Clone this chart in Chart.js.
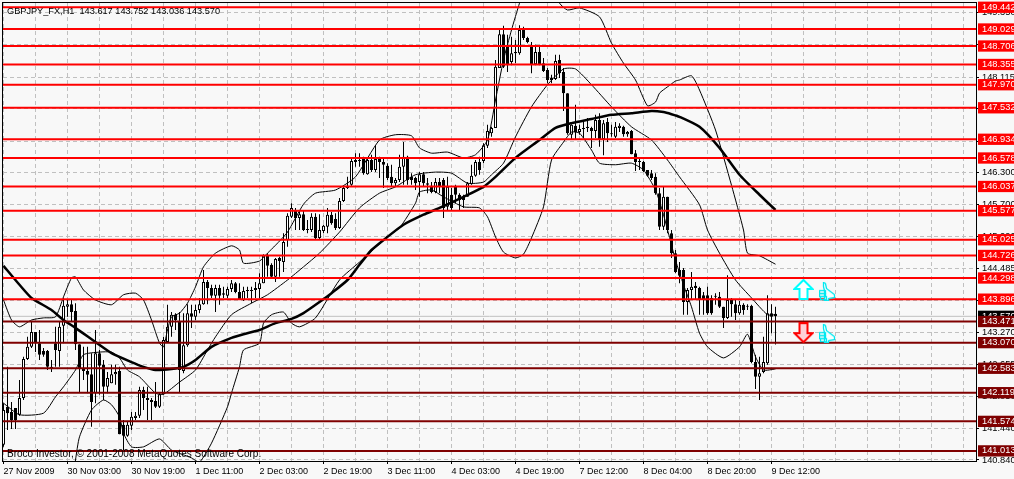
<html>
<head>
<meta charset="UTF-8">
<title>GBPJPY_FX,H1</title>
<script src="https://cdnjs.cloudflare.com/ajax/libs/Chart.js/4.4.1/chart.umd.js"></script>
<style>
 html, body { margin: 0; padding: 0; background: #f8f8f8; overflow: hidden; }
 canvas { display: block; }
</style>
</head>
<body>
<canvas id="myChart" width="1014" height="479"></canvas>
<script>
// H1 candles, one entry per bar, prices
var opens = [
 141.13,141.85,141.75,141.83,141.70,142.02,142.76,142.99,143.27,143.06,
 142.91,142.91,142.61,143.06,142.91,143.39,143.75,143.80,143.67,143.04,
 142.59,142.53,142.47,142.11,142.87,142.65,142.23,142.30,142.47,142.53,
 141.51,141.30,141.49,141.64,141.68,142.17,142.02,141.98,141.96,141.85,
 142.09,143.08,143.37,143.60,143.46,142.53,143.02,143.63,143.56,143.69,
 143.80,144.22,144.11,143.96,144.11,144.01,143.96,144.09,144.20,144.03,
 143.88,144.07,144.05,144.07,144.09,144.20,144.72,144.55,144.32,144.68,
 144.60,145.02,145.46,145.57,145.44,145.51,145.23,145.21,145.46,145.06,
 145.19,145.27,145.50,145.42,145.25,145.76,146.01,146.07,146.50,146.54,
 146.56,146.27,146.54,146.35,146.56,146.50,146.43,146.22,146.10,146.16,
 146.41,146.60,146.22,146.20,146.12,146.27,146.10,146.05,145.93,146.12,
 146.16,145.65,145.88,146.03,145.88,145.84,145.84,146.08,146.24,146.50,
 146.52,146.81,147.05,147.15,148.29,148.93,148.73,148.40,148.57,148.57,
 149.01,148.86,148.69,148.36,148.59,148.38,148.25,148.06,148.08,148.44,
 148.21,147.81,147.02,147.19,147.07,147.15,147.15,147.15,147.09,147.30,
 146.94,147.26,147.05,146.98,147.15,147.17,147.03,147.09,146.67,146.52,
 146.50,146.35,146.29,146.22,145.91,145.27,145.84,145.15,144.77,144.45,
 144.45,143.84,144.07,144.15,144.11,143.97,143.97,143.92,143.96,143.94,
 143.75,143.54,143.88,143.80,143.63,143.79,143.77,143.77,142.70,142.42,
 142.51,142.68,143.63,143.617];
var highs = [
 141.92,142.61,141.94,141.83,142.36,142.80,143.18,143.46,143.27,143.31,
 142.97,142.93,142.74,143.37,143.46,143.92,143.88,143.88,143.82,143.04,
 142.99,142.99,142.87,143.31,142.93,142.74,142.51,142.65,142.65,142.61,
 141.60,141.56,141.75,141.75,142.23,142.23,142.23,142.02,142.32,142.13,
 143.18,143.79,143.65,143.63,143.65,143.63,143.80,143.79,143.79,143.92,
 144.45,144.26,144.17,144.17,144.17,144.13,144.13,144.26,144.22,144.20,
 144.13,144.13,144.13,144.22,144.39,144.75,144.77,144.58,144.68,144.70,
 145.15,145.53,145.72,145.63,145.59,145.59,145.40,145.53,145.53,145.51,
 145.31,145.63,145.55,145.53,145.82,146.03,146.22,146.56,146.67,146.67,
 146.60,146.58,146.64,146.82,146.60,146.58,146.48,146.45,146.20,146.64,
 146.88,146.62,146.29,146.22,146.31,146.31,146.20,146.12,146.20,146.20,
 146.20,146.22,146.01,146.07,145.91,145.88,146.12,146.45,146.54,146.60,
 146.86,147.21,147.17,148.44,149.05,149.09,148.92,148.88,148.82,149.10,
 149.07,148.88,148.78,148.73,148.73,148.48,148.29,148.16,148.54,148.54,
 148.29,147.81,147.22,147.59,147.21,147.30,147.34,147.17,147.40,147.43,
 147.30,147.34,147.21,147.26,147.24,147.19,147.09,147.11,146.73,146.56,
 146.52,146.35,146.35,146.29,146.01,146.03,145.84,145.21,144.83,144.60,
 144.49,144.11,144.41,144.22,144.13,144.03,144.13,143.97,144.01,144.03,
 143.75,144.35,143.92,143.88,143.86,143.82,143.80,143.79,142.84,142.80,
 143.18,143.97,143.80,143.752];
var lows = [
 141.09,141.41,141.43,141.43,141.68,141.98,142.74,142.97,142.89,142.74,
 142.80,142.55,142.51,142.61,142.61,143.06,143.56,143.46,142.93,142.13,
 142.36,142.11,141.47,141.92,142.08,141.98,142.11,142.30,142.27,141.33,
 141.03,141.28,141.41,141.60,141.64,141.79,141.60,141.60,141.83,141.83,
 142.08,143.08,143.18,143.31,142.13,142.49,142.99,143.35,143.50,143.63,
 143.79,143.80,143.92,143.65,143.79,143.92,143.92,144.03,144.01,143.88,
 143.86,143.92,143.82,143.92,143.92,144.20,144.32,144.30,144.22,144.32,
 144.41,144.89,145.44,145.21,145.21,145.19,145.15,145.17,145.02,145.02,
 145.15,145.15,145.31,145.21,145.23,145.74,145.99,146.05,146.41,146.41,
 146.26,146.26,146.31,146.31,146.20,146.01,146.16,146.04,146.04,146.12,
 146.07,146.07,146.07,145.97,145.84,146.04,145.91,145.91,145.91,145.91,
 145.44,145.59,145.59,145.72,145.59,145.63,145.84,146.07,146.22,146.26,
 146.48,146.77,146.98,147.15,148.29,148.29,148.21,148.34,148.38,148.54,
 148.82,148.76,148.19,148.34,148.34,148.21,148.00,148.00,148.06,148.10,
 147.47,147.02,146.92,146.92,147.02,146.96,147.07,146.77,146.96,146.79,
 146.63,146.88,146.98,146.96,147.07,146.98,146.98,146.65,146.33,146.35,
 146.31,146.22,146.16,145.88,145.21,145.21,145.15,144.68,144.39,144.20,
 143.60,143.60,143.88,143.88,143.60,143.60,143.60,143.60,143.79,143.73,
 143.35,143.52,143.56,143.50,143.60,143.60,143.69,142.68,142.19,141.98,
 142.49,142.65,143.25,143.036];
var closes = [
 141.79,141.73,141.60,141.60,142.02,142.76,142.99,143.27,143.06,142.84,
 142.84,142.61,142.59,142.93,143.37,143.77,143.80,143.65,143.04,142.59,
 142.53,142.46,141.94,142.87,142.63,142.23,142.40,142.47,142.51,141.33,
 141.30,141.51,141.66,141.68,142.17,142.02,141.98,141.94,141.85,142.09,
 143.12,143.37,143.60,143.50,142.55,143.02,143.63,143.56,143.69,143.80,
 144.22,144.11,143.96,144.11,143.96,143.98,144.09,144.20,144.03,143.88,
 144.05,144.05,144.07,144.11,144.20,144.72,144.53,144.32,144.66,144.62,
 144.98,145.48,145.63,145.44,145.51,145.21,145.21,145.46,145.06,145.21,
 145.29,145.50,145.34,145.25,145.76,146.01,146.05,146.52,146.54,146.52,
 146.29,146.54,146.35,146.56,146.50,146.45,146.20,146.10,146.16,146.41,
 146.60,146.16,146.16,146.10,146.27,146.10,146.07,145.93,146.12,146.03,
 145.63,146.03,145.63,145.88,145.78,145.78,146.10,146.24,146.50,146.35,
 146.82,147.09,147.15,148.31,148.93,148.31,148.34,148.57,148.59,149.01,
 148.86,148.78,148.36,148.59,148.36,148.23,148.06,148.10,148.42,148.19,
 147.81,147.05,147.21,147.07,147.13,147.13,147.17,147.09,147.30,146.92,
 147.24,147.05,147.03,147.17,147.19,147.03,147.07,146.65,146.50,146.50,
 146.33,146.24,146.20,145.91,145.27,145.84,145.21,144.77,144.41,144.34,
 143.84,144.07,144.13,144.11,143.88,143.88,143.63,143.63,143.94,143.75,
 143.54,143.88,143.80,143.63,143.79,143.69,143.75,142.70,142.42,142.49,
 142.70,143.63,143.56,143.570];

// moving average and bollinger lines, sampled at the bars where they bend
var maBars = [0,4,7,12,15,18,23,27,32,35,38,42,45,48,52,57,60,64,68,72,75,79,82,86,89,92,96,100,105,109,115,120,123,128,134,138,142,147,152,157,162,165,167,169,174,179,184,189,193];
var maVals = [144.53,144.17,143.92,143.69,143.50,143.35,143.08,142.87,142.70,142.61,142.55,142.57,142.61,142.74,142.99,143.16,143.23,143.31,143.44,143.52,143.63,143.84,144.01,144.26,144.55,144.83,145.08,145.31,145.50,145.63,145.84,146.03,146.22,146.58,146.92,147.15,147.24,147.32,147.40,147.43,147.47,147.45,147.41,147.36,147.17,146.77,146.26,145.88,145.59];

var upperBars = [0,2,4,7,10,13,15,17,18,20,23,27,30,33,35,37,39,40,41,42,44,46,48,50,53,57,59,60,64,66,68,71,75,78,83,88,94,98,102,104,107,111,115,118,121,123,125,127,129,131,135,138,139,141,144,149,152,155,158,161,163,164,166,168,169,172,174,178,182,185,186,189,193];
var upperVals = [143.88,143.50,143.37,143.50,143.54,143.56,143.94,144.30,144.32,144.07,143.88,143.79,143.98,144.01,143.88,143.50,143.06,142.99,143.31,143.56,143.63,143.82,144.13,144.51,144.77,144.91,144.83,144.58,144.62,144.77,144.92,145.17,145.70,145.91,145.97,146.22,146.92,147.02,147.00,146.77,146.67,146.69,146.58,146.64,146.92,147.68,148.44,149.01,149.52,149.96,150.15,149.77,149.52,149.39,149.43,149.26,148.76,148.38,148.06,147.57,147.64,147.81,147.93,148.04,148.06,148.14,147.87,147.11,146.06,145.21,144.77,144.72,144.56];

var midBars = [0,4,10,13,15,18,20,24,27,29,31,34,38,40,44,48,51,53,57,62,66,71,75,79,84,89,94,98,103,108,112,116,120,122,125,128,132,136,140,143,147,152,157,162,166,169,174,176,179,183,187,191,193];
var midVals = [141.92,141.70,141.73,142.04,142.23,142.55,142.84,142.89,142.89,142.78,142.55,142.42,142.11,142.09,142.32,142.55,142.93,143.18,143.60,143.82,143.98,144.26,144.51,144.77,145.17,145.63,145.91,146.03,146.26,146.31,146.29,146.10,146.12,146.26,146.48,146.98,147.55,147.97,148.27,148.27,147.97,147.55,147.17,146.92,146.54,146.22,145.69,145.21,144.77,144.26,143.92,143.60,143.60];

var lowerBars = [17,18,19,22,25,27,29,30,32,35,39,42,47,49,52,56,57,59,60,64,65,67,70,72,74,78,84,89,96,99,103,104,107,110,115,119,121,123,125,128,130,132,135,137,140,142,144,147,149,153,157,160,163,165,168,170,172,174,176,180,184,186,188,190,193];
var lowerVals = [140.27,140.84,141.28,141.79,141.98,141.89,141.66,141.35,141.09,141.09,141.24,141.03,140.88,140.80,141.16,141.85,142.11,142.61,142.93,143.06,143.44,143.60,143.65,143.44,143.37,143.54,144.26,144.60,145.08,145.25,145.72,145.93,145.97,145.84,145.65,145.63,145.46,145.08,144.79,144.68,144.75,145.06,145.65,146.54,146.88,147.07,147.05,146.73,146.48,146.45,146.48,146.35,145.97,145.50,144.64,144.17,143.75,143.25,142.99,142.78,142.99,143.23,142.80,142.55,142.57];

// horizontal levels
var redLevels = [149.442,149.029,148.706,148.355,147.970,147.532,146.934,146.578,146.037,145.577,145.025,144.726,144.298,143.896];
var darkLevels = [143.471,143.070,142.583,142.119,141.574,141.013];
var lastPrice = 143.570;

// axis labels
var gridPrices = [149.350,148.740,148.115,147.510,146.900,146.300,145.700,145.090,144.485,143.880,143.270,142.655,142.050,141.440,140.840];
var dateLabels = ["27 Nov 2009","30 Nov 03:00","30 Nov 19:00","1 Dec 11:00","2 Dec 03:00","2 Dec 19:00","3 Dec 11:00","4 Dec 03:00","4 Dec 19:00","7 Dec 12:00","8 Dec 04:00","8 Dec 20:00","9 Dec 12:00"];

var headerText = "GBPJPY_FX,H1  143.617 143.752 143.036 143.570";
var footerText = "Broco Investor, \u00a9 2001-2008 MetaQuotes Software Corp.";

// signals on the right of the last bar
var arrowUp = {bar: 200, price: 144.08};
var arrowDown = {bar: 200, price: 143.26};
var thumbUp = {bar: 206, price: 144.04};
var thumbDown = {bar: 206, price: 143.24};

var FONT = "'Liberation Sans', sans-serif";
var minBar = -0.125, maxBar = 243.125;

function linePoints(bars, vals) {
    return bars.map(function (b, i) { return {x: b, y: vals[i]}; });
}

function thinLine(label, bars, vals) {
    return {type: 'line', label: label, data: linePoints(bars, vals), borderColor: '#000', borderWidth: 1,
	    pointRadius: 0, tension: 0.2, order: 4};
}

function levelLine(price, colour) {
    return {type: 'line', label: 'level ' + price, data: [{x: minBar, y: price}, {x: maxBar, y: price}],
	    borderColor: colour, borderWidth: 2, pointRadius: 0, order: 1};
}

function makeIcon(w, h, draw) {
    var c = document.createElement('canvas');
    c.width = w; c.height = h;
    draw(c.getContext('2d'));
    return c;
}

function arrowIcon(up, stroke, fill) {
    return makeIcon(21, 21, function (g) {
	var pts = [[10.5,1],[1.5,10],[6.5,10],[6.5,20],[14.5,20],[14.5,10],[19.5,10]];
	g.beginPath();
	pts.forEach(function (p, i) {
	    var y = up ? p[1] : 21 - p[1];
	    if (i == 0) g.moveTo(p[0], y); else g.lineTo(p[0], y);
	});
	g.closePath();
	g.fillStyle = fill; g.fill();
	g.strokeStyle = stroke; g.lineWidth = 2; g.stroke();
    });
}

function thumbIcon() {
    return makeIcon(17, 19, function (g) {
	g.strokeStyle = '#00e8f0'; g.lineWidth = 1.3; g.fillStyle = '#f8ffff';
	g.beginPath();
	g.moveTo(4.5,0.5); g.lineTo(6.5,1.5); g.lineTo(7.5,6.5); g.lineTo(11.5,9.5); g.lineTo(15.5,12.5);
	g.lineTo(15.5,15.5); g.lineTo(9.5,16.5); g.lineTo(9.5,18.5); g.lineTo(5.5,18.5); g.lineTo(5.5,8.5);
	g.lineTo(4.5,4.5); g.closePath();
	g.fill(); g.stroke();
	g.strokeRect(0.5,8.5,6,3); g.strokeRect(0.5,11.5,6,3); g.strokeRect(1.5,14.5,6,3);
    });
}

// the scale also asks for these options without a tick
function isGridTick(c) {
    return !c.tick || gridPrices.indexOf(c.tick.value) >= 0;
}

var frameAndText = {
    id: 'frameAndText',
    afterDraw: function (chart) {
	var g = chart.ctx, a = chart.chartArea;
	g.save();
	g.strokeStyle = '#000';
	g.lineWidth = 1;
	g.strokeRect(a.left - 0.5, a.top - 0.5, a.right - a.left + 1, a.bottom - a.top + 1);
	g.fillStyle = '#000';
	g.textBaseline = 'alphabetic';
	g.font = '9.2px ' + FONT;
	g.fillText(headerText, a.left + 4, 14);
	g.font = '10px ' + FONT;
	g.fillText(footerText, a.left + 4, 457);
	g.restore();
    }
};

function initChart() {
    var wicks = [], bodies = [], fills = [];
    for (var i = 0; i < opens.length; i++) {
	wicks.push({x: i, y: [lows[i], highs[i]]});
	bodies.push({x: i, y: [opens[i], closes[i]]});
	fills.push(closes[i] >= opens[i] ? '#fff' : '#000');
    }

    var datasets = [
	{type: 'line', label: 'last price', data: [{x: minBar, y: lastPrice}, {x: maxBar, y: lastPrice}],
	 borderColor: '#c0c0c0', borderWidth: 1, pointRadius: 0, order: 7},
	{type: 'bar', label: 'wicks', data: wicks, backgroundColor: '#000', barThickness: 1, grouped: false,
	 inflateAmount: 0, borderWidth: 0, order: 6},
	{type: 'bar', label: 'bodies', data: bodies, backgroundColor: fills, borderColor: '#000', borderWidth: 1,
	 borderSkipped: false, barThickness: 3, grouped: false, inflateAmount: 0, order: 5},
	thinLine('upper band', upperBars, upperVals),
	thinLine('middle band', midBars, midVals),
	thinLine('lower band', lowerBars, lowerVals),
	{type: 'line', label: 'moving average', data: linePoints(maBars, maVals), borderColor: '#000', borderWidth: 2.5,
	 pointRadius: 0, tension: 0.2, order: 3}
    ];
    redLevels.forEach(function (p) { datasets.push(levelLine(p, '#ff0000')); });
    darkLevels.forEach(function (p) { datasets.push(levelLine(p, '#7f0000')); });

    var signals = [
	[arrowUp, arrowIcon(true, '#00ffff', '#ffffff')],
	[arrowDown, arrowIcon(false, '#ff0000', '#ffd0d8')],
	[thumbUp, thumbIcon()],
	[thumbDown, thumbIcon()]
    ];
    signals.forEach(function (s) {
	datasets.push({type: 'line', label: 'signal', data: [{x: s[0].bar, y: s[0].price}], showLine: false,
		       pointStyle: s[1], pointRadius: 10, order: 0});
    });

    var ctx = document.getElementById('myChart').getContext('2d');
    new Chart(ctx, {
	data: {datasets: datasets},
	plugins: [frameAndText],
	options: {
	    responsive: false,
	    animation: false,
	    devicePixelRatio: 1,
	    events: [],
	    layout: {autoPadding: false, padding: {left: 3, top: 3, right: 0, bottom: 0}},
	    plugins: {legend: {display: false}, tooltip: {enabled: false}},
	    scales: {
		x: {
		    type: 'linear',
		    offset: false,
		    min: minBar,
		    max: maxBar,
		    afterBuildTicks: function (axis) {
			var t = [];
			for (var b = 0; b <= 240; b += 8) t.push({value: b});
			axis.ticks = t;
		    },
		    afterFit: function (axis) {
			axis.height = 18;
			axis.paddingLeft = 0;
			axis.paddingRight = 0;
		    },
		    border: {color: '#000', dash: [4, 3]},
		    grid: {
			offset: false,
			color: '#c0c0c0',
			tickLength: 3,
			tickColor: function (c) { return c.tick && c.tick.value % 16 == 0 && c.tick.value <= 192 ? '#000' : 'rgba(0,0,0,0)'; },
			tickBorderDash: []
		    },
		    ticks: {
			autoSkip: false,
			maxRotation: 0,
			align: 'start',
			padding: 2,
			color: '#000',
			font: {family: FONT, size: 9},
			callback: function (v) { return v % 16 == 0 && v <= 192 ? dateLabels[v / 16] : ''; }
		    }
		},
		y: {
		    type: 'linear',
		    position: 'right',
		    min: 140.821,
		    max: 149.523,
		    afterBuildTicks: function (axis) {
			var t = [];
			gridPrices.forEach(function (p) { t.push({value: p}); });
			t.push({value: lastPrice});
			redLevels.concat(darkLevels).forEach(function (p) { t.push({value: p}); });
			axis.ticks = t;
		    },
		    afterFit: function (axis) {
			axis.width = 38;
			axis.paddingTop = 0;
			axis.paddingBottom = 0;
		    },
		    border: {color: '#000', dash: [4, 3]},
		    grid: {
			color: function (c) { return isGridTick(c) ? '#c0c0c0' : 'rgba(0,0,0,0)'; },
			tickLength: 3,
			tickColor: function (c) { return isGridTick(c) ? '#000' : 'rgba(0,0,0,0)'; },
			tickBorderDash: []
		    },
		    ticks: {
			autoSkip: false,
			padding: 3,
			font: {family: FONT, size: 9.3, lineHeight: 1},
			color: function (c) { return isGridTick(c) ? '#000' : '#fff'; },
			showLabelBackdrop: function (c) { return !isGridTick(c); },
			backdropColor: function (c) {
			    if (!c.tick) return '#000';
			    if (c.tick.value == lastPrice) return '#000';
			    return redLevels.indexOf(c.tick.value) >= 0 ? '#ff0000' : '#7f0000';
			},
			backdropPadding: {left: 4, right: 4, top: 1, bottom: 1},
			callback: function (v) { return v.toFixed(3); }
		    }
		}
	    }
	}
    });
}

window.onload = initChart;
</script>
</body>
</html>
